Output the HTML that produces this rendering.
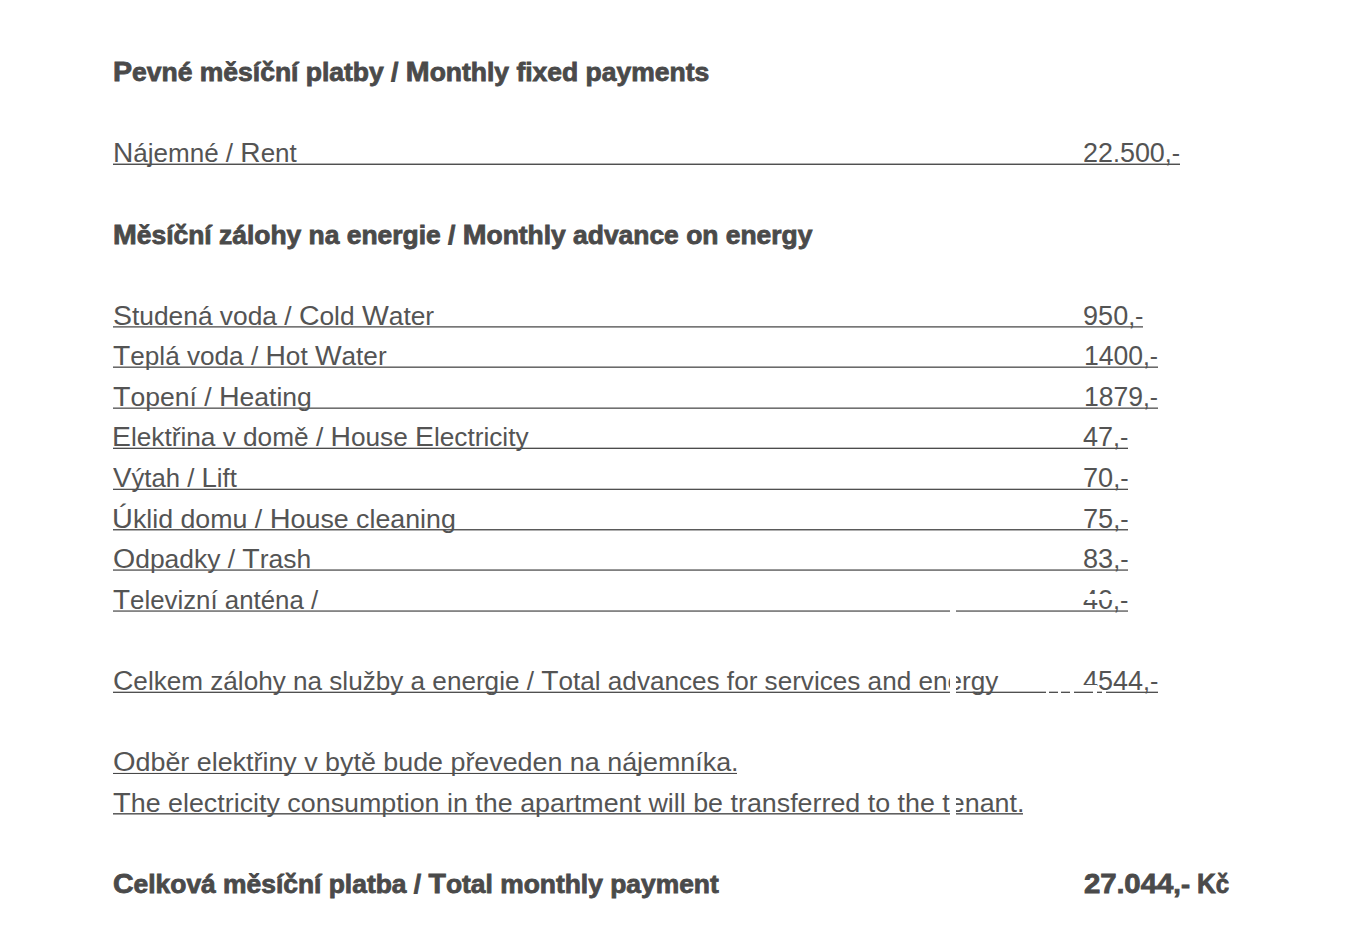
<!DOCTYPE html>
<html><head><meta charset="utf-8"><title>Monthly payments</title>
<style>
html,body{margin:0;padding:0;background:#fff}
body{width:1350px;height:952px;overflow:hidden;position:relative;font-family:"Liberation Sans",sans-serif;color:#4a4a4a}
.t{position:absolute;white-space:nowrap;font-size:25px;line-height:40px;transform-origin:0 0;color:#545454}
.c{font-size:27px}
.b .c{font-size:27px}
.b{font-weight:bold;font-size:25px;color:#4a4a4a;-webkit-text-stroke:0.8px #4a4a4a}
.u{position:absolute;height:0;border-top:1px solid;border-bottom:1px solid}
.w{position:absolute;background:#fff}
</style></head><body>
<div class="u" style="left:113px;width:1066.8px;top:163px;border-color:#b0b0b0 transparent #505050"></div>
<div class="u" style="left:113px;width:1029.9px;top:326px;border-color:#777777 transparent #a0a0a0"></div>
<div class="u" style="left:113px;width:1044.6px;top:366px;border-color:#a8a8a8 transparent #6a6a6a"></div>
<div class="u" style="left:113px;width:1044.6px;top:407px;border-color:#a8a8a8 transparent #707070"></div>
<div class="u" style="left:113px;width:1015.0px;top:447px;border-color:#c0c0c0 transparent #4c4c4c"></div>
<div class="u" style="left:113px;width:1015.0px;top:488px;border-color:#c8c8c8 transparent #505050"></div>
<div class="u" style="left:113px;width:1015.0px;top:529px;border-color:#5a5a5a transparent #b0b0b0"></div>
<div class="u" style="left:113px;width:1015.0px;top:569px;border-color:#989898 transparent #808080"></div>
<div class="u" style="left:113px;width:1015.0px;top:610px;border-color:#989898 transparent #858585"></div>
<div class="u" style="left:113px;width:1044.6px;top:691px;border-color:#c0c0c0 transparent #505050"></div>
<div class="u" style="left:113px;width:623.5px;top:772px;border-color:#f0f0f0 transparent #484848"></div>
<div class="u" style="left:113px;width:909.5px;top:813px;border-color:#606060 transparent #a0a0a0"></div>
<div class="t b" style="left:113.34px;top:52px;transform:scaleX(1.0592)"><span class="c">P</span>evné měsíční platby / <span class="c">M</span>onthly fixed payments</div>
<div class="t" style="left:112.80px;top:133px;transform:scaleX(1.0408)"><span class="c">N</span>ájemné / <span class="c">R</span>ent</div>
<div class="t" style="left:1082.77px;top:133px;transform:scaleX(0.9976)"><span class="c">22</span>.<span class="c">500</span>,-</div>
<div class="t b" style="left:113.06px;top:215px;transform:scaleX(1.0567)"><span class="c">M</span>ěsíční zálohy na energie / <span class="c">M</span>onthly advance on energy</div>
<div class="t" style="left:112.63px;top:296px;transform:scaleX(1.0534)"><span class="c">S</span>tudená voda / <span class="c">C</span>old <span class="c">W</span>ater</div>
<div class="t" style="left:1083.10px;top:296px;transform:scaleX(1.0000)"><span class="c">950</span>,-</div>
<div class="t" style="left:112.90px;top:336px;transform:scaleX(1.0458)"><span class="c">T</span>eplá voda / <span class="c">H</span>ot <span class="c">W</span>ater</div>
<div class="t" style="left:1084.24px;top:336px;transform:scaleX(0.9828)"><span class="c">1400</span>,-</div>
<div class="t" style="left:112.86px;top:377px;transform:scaleX(1.0601)"><span class="c">T</span>opení / <span class="c">H</span>eating</div>
<div class="t" style="left:1084.24px;top:377px;transform:scaleX(0.9828)"><span class="c">1879</span>,-</div>
<div class="t" style="left:112.42px;top:417px;transform:scaleX(1.0484)"><span class="c">E</span>lektřina v domě / <span class="c">H</span>ouse <span class="c">E</span>lectricity</div>
<div class="t" style="left:1082.91px;top:417px;transform:scaleX(1.0007)"><span class="c">47</span>,-</div>
<div class="t" style="left:112.83px;top:458px;transform:scaleX(1.0268)"><span class="c">V</span>ýtah / <span class="c">L</span>ift</div>
<div class="t" style="left:1083.16px;top:458px;transform:scaleX(1.0046)"><span class="c">70</span>,-</div>
<div class="t" style="left:112.15px;top:499px;transform:scaleX(1.0706)"><span class="c">Ú</span>klid domu / <span class="c">H</span>ouse cleaning</div>
<div class="t" style="left:1083.16px;top:499px;transform:scaleX(1.0046)"><span class="c">75</span>,-</div>
<div class="t" style="left:112.77px;top:539px;transform:scaleX(1.0562)"><span class="c">O</span>dpadky / <span class="c">T</span>rash</div>
<div class="t" style="left:1083.13px;top:539px;transform:scaleX(1.0056)"><span class="c">83</span>,-</div>
<div class="t" style="left:112.95px;top:580px;transform:scaleX(1.0334)"><span class="c">T</span>elevizní anténa /</div>
<div class="t" style="left:1082.91px;top:580px;transform:scaleX(1.0007)"><span class="c">40</span>,-</div>
<div class="t" style="left:112.69px;top:661px;transform:scaleX(1.0445)"><span class="c">C</span>elkem zálohy na služby a energie / <span class="c">T</span>otal advances for services and energy</div>
<div class="t" style="left:1082.90px;top:661px;transform:scaleX(1.0000)"><span class="c">4544</span>,-</div>
<div class="t" style="left:112.75px;top:742px;transform:scaleX(1.0739)"><span class="c">O</span>dběr elektřiny v bytě bude převeden na nájemníka.</div>
<div class="t" style="left:112.54px;top:783px;transform:scaleX(1.0737)"><span class="c">T</span>he electricity consumption in the apartment will be transferred to the tenant.</div>
<div class="t b" style="left:113.27px;top:864px;transform:scaleX(1.0559)"><span class="c">C</span>elková měsíční platba / <span class="c">T</span>otal monthly payment</div>
<div class="t b" style="left:1084.06px;top:864px;transform:scaleX(1.0891)"><span class="c">27</span>.<span class="c">044</span>,-</div>
<div class="t b" style="left:1196.76px;top:864px;transform:scaleX(0.9612)"><span class="c">K</span>č</div>
<div class="w" style="left:950px;top:588px;width:6px;height:232px"></div>
<div class="w" style="left:1078px;top:594px;width:37px;height:6px"></div>
<div class="w" style="left:1083px;top:685px;width:14px;height:5px"></div>
<div class="w" style="left:1046px;top:690px;width:3px;height:4px"></div>
<div class="w" style="left:1058px;top:690px;width:3px;height:4px"></div>
<div class="w" style="left:1070px;top:690px;width:4px;height:4px"></div>
<div class="w" style="left:1093px;top:690px;width:4px;height:4px"></div>
<div class="w" style="left:1102px;top:690px;width:4px;height:4px"></div>
</body></html>
